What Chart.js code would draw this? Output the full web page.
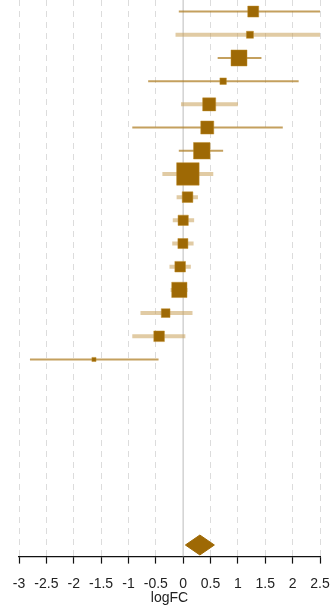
<!DOCTYPE html>
<html>
<head>
<meta charset="utf-8">
<script src="https://cdn.jsdelivr.net/npm/chart.js@4/dist/chart.umd.min.js"></script>
<style>
  html, body { margin: 0; padding: 0; background: #ffffff; }
  #wrap { width: 332px; height: 612px; position: relative; }
</style>
</head>
<body>
<div id="wrap"><canvas id="forest"></canvas></div>
<script>
// Per-study log fold changes with 95% confidence limits (top row first)
const estimate = [1.28, 1.22, 1.02, 0.73, 0.475, 0.44, 0.34, 0.086, 0.08, 0.0, -0.005, -0.055, -0.07, -0.32, -0.44, -1.63];
const ciLow    = [-0.08, -0.14, 0.63, -0.64, -0.04, -0.93, -0.08, -0.38, -0.12, -0.19, -0.2, -0.25, -0.23, -0.78, -0.93, -2.8];
const ciHigh   = [2.66, 2.59, 1.43, 2.11, 1.0, 1.82, 0.73, 0.55, 0.27, 0.2, 0.19, 0.14, 0.08, 0.17, 0.04, -0.45];
// Relative study weights (%), box area is proportional to weight
const weight   = [4.9, 2.0, 10.4, 1.7, 6.9, 6.9, 11.1, 20.6, 4.6, 4.3, 4.1, 4.6, 9.5, 3.1, 4.6, 0.7];
// Study design group: 1 = thin dark interval, 2 = wide pale interval
const design   = [1, 2, 1, 1, 2, 1, 1, 2, 2, 2, 2, 2, 2, 2, 2, 1];

// Pooled estimate
const pooledEstimate = [0.305];
const pooledLow      = [0.04];
const pooledHigh     = [0.57];

// Axis ticks
const xTicks = [-3, -2.5, -2, -1.5, -1, -0.5, 0, 0.5, 1, 1.5, 2, 2.5];

const BOX = '#9e6905';
const LINE_THIN = 'rgba(176,128,40,0.75)';
const LINE_WIDE = 'rgba(200,160,90,0.55)';
const summaryRow = 23;
const diamondHalf = 0.43;
const boxScale = 4.96;

const datasets = [];

// Squares for each study
datasets.push({
  type: 'scatter',
  order: 0,
  data: estimate.map((v, i) => ({ x: v, y: i })),
  pointStyle: 'rect',
  pointRadius: weight.map(w => boxScale * Math.sqrt(w) / Math.SQRT2),
  pointHoverRadius: weight.map(w => boxScale * Math.sqrt(w) / Math.SQRT2),
  pointBackgroundColor: BOX,
  pointBorderColor: 'rgba(190,140,40,0.6)',
  pointBorderWidth: 0.8,
  showLine: false
});

// Confidence intervals
estimate.forEach((v, i) => {
  datasets.push({
    type: 'scatter',
    order: 2,
    data: [{ x: ciLow[i], y: i }, { x: ciHigh[i], y: i }],
    showLine: true,
    pointRadius: 0,
    borderColor: design[i] === 1 ? LINE_THIN : LINE_WIDE,
    borderWidth: design[i] === 1 ? 2 : 4,
    borderCapStyle: 'butt'
  });
});

// Pooled diamond: upper half filled down to lower half
datasets.push({
  type: 'scatter',
  order: 1,
  data: [
    { x: pooledLow[0], y: summaryRow },
    { x: pooledEstimate[0], y: summaryRow - diamondHalf },
    { x: pooledHigh[0], y: summaryRow }
  ],
  showLine: true,
  pointRadius: 0,
  borderWidth: 1,
  borderColor: BOX,
  backgroundColor: BOX,
  fill: '+1'
});
datasets.push({
  type: 'scatter',
  order: 1,
  data: [
    { x: pooledLow[0], y: summaryRow },
    { x: pooledEstimate[0], y: summaryRow + diamondHalf },
    { x: pooledHigh[0], y: summaryRow }
  ],
  showLine: true,
  pointRadius: 0,
  borderWidth: 1,
  borderColor: BOX,
  backgroundColor: BOX,
  fill: false
});

// No-effect reference line
datasets.push({
  type: 'scatter',
  order: 5,
  data: [{ x: 0, y: -0.5 }, { x: 0, y: 23.5 }],
  showLine: true,
  pointRadius: 0,
  borderColor: '#d2d2d2',
  borderWidth: 1.5
});

new Chart(document.getElementById('forest'), {
  type: 'scatter',
  data: { datasets },
  options: {
    responsive: true,
    maintainAspectRatio: false,
    animation: false,
    events: [],
    layout: { autoPadding: false, padding: { left: 19, right: 12, top: 0, bottom: 5 } },
    plugins: {
      legend: { display: false },
      tooltip: { enabled: false }
    },
    scales: {
      x: {
        type: 'linear',
        min: -3,
        max: 2.5,
        afterBuildTicks: axis => { axis.ticks = xTicks.map(v => ({ value: v })); },
        ticks: {
          autoSkip: false,
          maxRotation: 0,
          padding: 2,
          color: '#222',
          font: { family: 'Liberation Sans, Arial, sans-serif', size: 14, lineHeight: '38px' },
          callback: v => String(v)
        },
        grid: {
          color: ctx => (ctx.tick && ctx.tick.value === 0) ? 'rgba(0,0,0,0)' : '#dcdcdc',
          lineWidth: 1,
          drawTicks: true,
          tickLength: 7,
          tickColor: '#111',
          tickWidth: 1.2
        },
        border: { display: true, color: '#111', width: 1.2, dash: [6, 5] },
        title: {
          display: true,
          text: 'logFC',
          color: '#222',
          font: { family: 'Liberation Sans, Arial, sans-serif', size: 14 },
          padding: { top: -15.4, bottom: 0 }
        }
      },
      y: {
        type: 'linear',
        min: -0.5,
        max: 23.5,
        reverse: true,
        display: false
      }
    }
  }
});
</script>
</body>
</html>
